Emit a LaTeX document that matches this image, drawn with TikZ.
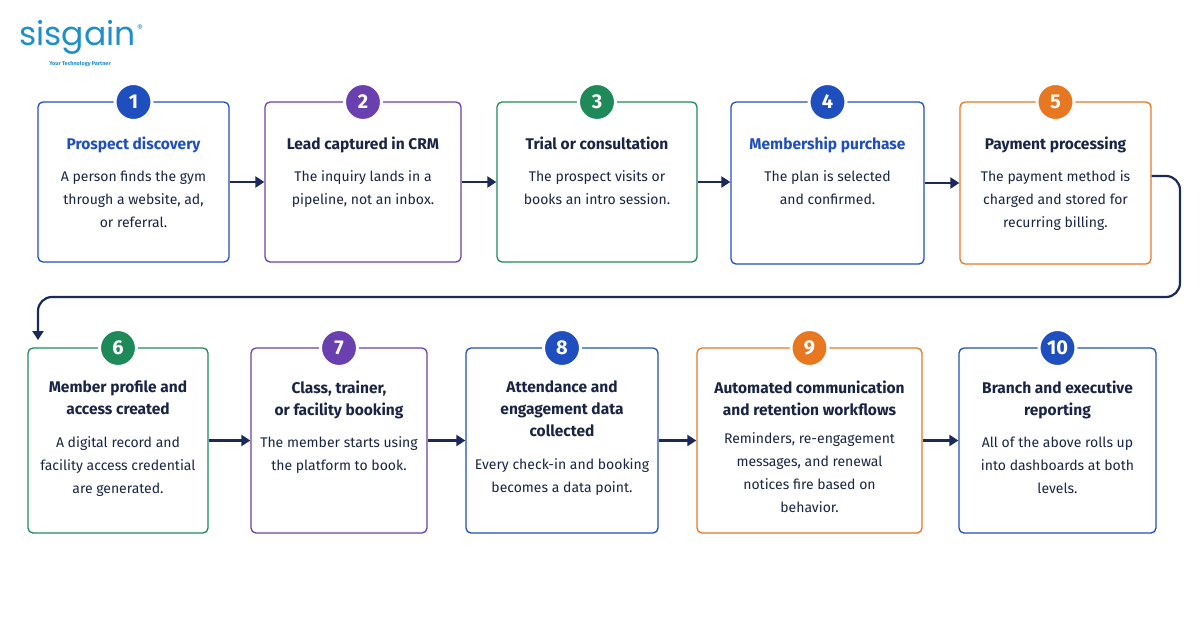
\documentclass[tikz,border=0pt]{standalone}
\usepackage{fontspec}
\setmainfont{Fira Sans}
\newfontfamily\logofont{Poppins}
\usetikzlibrary{arrows.meta}
\definecolor{cb}{HTML}{1F4FBF}
\definecolor{cp}{HTML}{6A3FB0}
\definecolor{cg}{HTML}{1E8A5A}
\definecolor{co}{HTML}{E87722}
\definecolor{navy}{HTML}{1A2545}
\definecolor{arrc}{HTML}{1A2A5A}
\definecolor{logo}{HTML}{1E8FC8}
\begin{document}
\begin{tikzpicture}[x=1pt,y=-1pt,
 box/.style={draw=#1,line width=1.3pt,rounded corners=5pt,fill=white,inner sep=0},
 num/.style={circle,fill=#1,draw=white,line width=3pt,minimum size=37pt,text=white,font=\fontsize{20}{20}\selectfont\bfseries,inner sep=0},
 ttl/.style={text=navy,font=\fontsize{15.5}{22}\selectfont\bfseries,align=center,anchor=north},
 bdy/.style={text=navy,font=\fontsize{14}{23}\selectfont,align=center,anchor=north},
 arr/.style={draw=arrc,line width=2.2pt,-{Triangle[length=9pt,width=11pt]}}]
\useasboundingbox[fill=white] (0,0) rectangle (1200,630);
\node[text=logo,font=\logofont\fontsize{33}{33}\selectfont,anchor=west,inner sep=0] (logo) at (19,37) {sisgain};
\node[text=logo,font=\fontsize{9}{9}\selectfont,anchor=west,inner sep=0] (r) at (137,28) {®};
\node[text=logo,font=\fontsize{5.5}{6}\selectfont\bfseries] (tag) at (80,64) {Your Technology Partner};
\foreach \n/\xa/\xb/\ya/\yb/\c in {1/38/229/102/262/cb,2/265/461/102/262/cp,3/497/697/102/262/cg,4/731/924/102/264/cb,5/960/1151/102/264/co,
6/28/208/348/533/cg,7/251/427/348/533/cp,8/466/658/348/533/cb,9/697/922/348/533/co,10/959/1156/348/533/cb}{
 \node[box=\c,minimum width={\xb-\xa},minimum height={\yb-\ya}] (b\n) at ({(\xa+\xb)/2},{(\ya+\yb)/2}) {};
 \node[num=\c] (n\n) at ({(\xa+\xb)/2},\ya) {\n};
}
\node[ttl,text=cb] (t1) at (b1.center|-0,133) {Prospect discovery};
\node[bdy] (d1) at (b1.center|-0,167) {A person finds the gym\\through a website, ad,\\or referral.};
\node[ttl] (t2) at (b2.center|-0,133) {Lead captured in CRM};
\node[bdy] (d2) at (b2.center|-0,167) {The inquiry lands in a\\pipeline, not an inbox.};
\node[ttl] (t3) at (b3.center|-0,133) {Trial or consultation};
\node[bdy] (d3) at (b3.center|-0,167) {The prospect visits or\\books an intro session.};
\node[ttl,text=cb] (t4) at (b4.center|-0,133) {Membership purchase};
\node[bdy] (d4) at (b4.center|-0,167) {The plan is selected\\and confirmed.};
\node[ttl] (t5) at (b5.center|-0,133) {Payment processing};
\node[bdy] (d5) at (b5.center|-0,167) {The payment method is\\charged and stored for\\recurring billing.};
\node[ttl] (t6) at (b6.center|-0,377) {Member profile and\\access created};
\node[bdy] (d6) at (b6.center|-0,433) {A digital record and\\facility access credential\\are generated.};
\node[ttl] (t7) at (b7.center|-0,377) {Class, trainer,\\or facility booking};
\node[bdy] (d7) at (b7.center|-0,433) {The member starts using\\the platform to book.};
\node[ttl] (t8) at (b8.center|-0,377) {Attendance and\\engagement data\\collected};
\node[bdy] (d8) at (b8.center|-0,455) {Every check-in and booking\\becomes a data point.};
\node[ttl] (t9) at (b9.center|-0,377) {Automated communication\\and retention workflows};
\node[bdy] (d9) at (b9.center|-0,429) {Reminders, re-engagement\\messages, and renewal\\notices fire based on\\behavior.};
\node[ttl] (t10) at (b10.center|-0,377) {Branch and executive\\reporting};
\node[bdy] (d10) at (b10.center|-0,433) {All of the above rolls up\\into dashboards at both\\levels.};
\foreach \a/\b in {1/2,2/3,3/4,4/5,6/7,7/8,8/9,9/10}{
 \draw[arr] (b\a.east) -- (b\a.east-|b\b.west);
}
\coordinate (c1) at (1180,297);
\coordinate (c2) at (38,297);
\draw[arr,rounded corners=14pt] (b5.east|-0,176) -- (1180,176) -- (c1) -- (c2) -- (38,340);
\end{tikzpicture}
\end{document}
